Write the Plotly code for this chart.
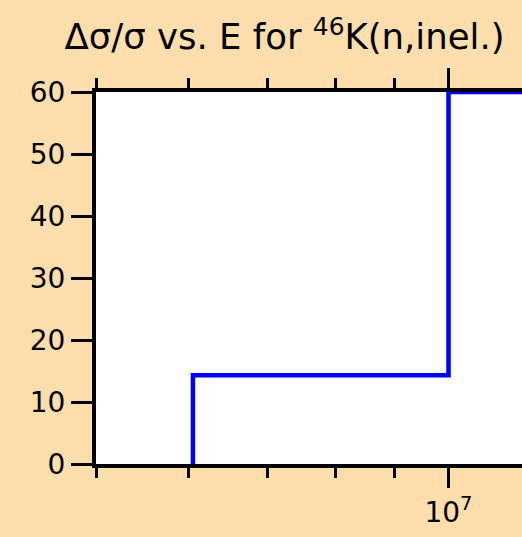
import plotly.graph_objects as go
import math

# Data (energy in eV, relative uncertainty in %)
energy = [6.05e6, 6.05e6, 1.0e7, 2.0e7]
uncert = [0.0, 14.3, 60.0, 60.0]

y_ticks = [0, 10, 20, 30, 40, 50, 60]
x_major = [1e7]
x_major_text = ["10<sup>7</sup>"]
x_minor = [5e6, 6e6, 7e6, 8e6, 9e6, 2e7]

W, H = 522, 537
L, T, B = 96, 92, 73
plot_w = W - L
px_per_dec = 1171
x0 = math.log10(5e6)
x1 = x0 + plot_w / px_per_dec

fig = go.Figure()
fig.add_trace(go.Scatter(
    x=energy, y=uncert, mode="lines", line_shape="hv",
    line=dict(color="#0000ff", width=4.5), hoverinfo="skip", showlegend=False,
))

FAM = "DejaVu Sans, sans-serif"
font = dict(family=FAM, color="black")

fig.update_layout(
    width=W, height=H,
    margin=dict(l=L, r=0, t=T, b=B, pad=0),
    paper_bgcolor="#FFDEAD",
    plot_bgcolor="white",
    showlegend=False,
    title=dict(
        text="\u0394\u03c3/\u03c3 vs. E for <sup>46</sup>K(n,inel.)",
        x=284.5 / W, xanchor="center", xref="container",
        y=1 - 37 / H, yanchor="middle", yref="container",
        font=dict(size=35.5, **font),
    ),
    font=font,
)

fig.update_xaxes(
    type="log", range=[x0, x1],
    tickmode="array", tickvals=x_major, ticktext=x_major_text,
    ticks="outside", ticklen=20, tickwidth=2.5, tickcolor="black",
    tickfont=dict(size=28, **font),
    showline=True, linewidth=4, linecolor="black", mirror="allticks",
    showgrid=False, zeroline=False,
    minor=dict(tickmode="array", tickvals=x_minor, ticks="outside",
               ticklen=10, tickwidth=2.5, tickcolor="black", showgrid=False),
)
fig.update_yaxes(
    range=[0, 60], tickmode="array", tickvals=y_ticks,
    ticks="outside", ticklen=21, tickwidth=2.5, tickcolor="black",
    tickfont=dict(size=28, **font),
    showline=True, linewidth=4, linecolor="black", mirror=False,
    showgrid=False, zeroline=False,
)

fig.write_html("out.html", config={"displayModeBar": False},
               post_script="document.body.style.margin='0px';")
